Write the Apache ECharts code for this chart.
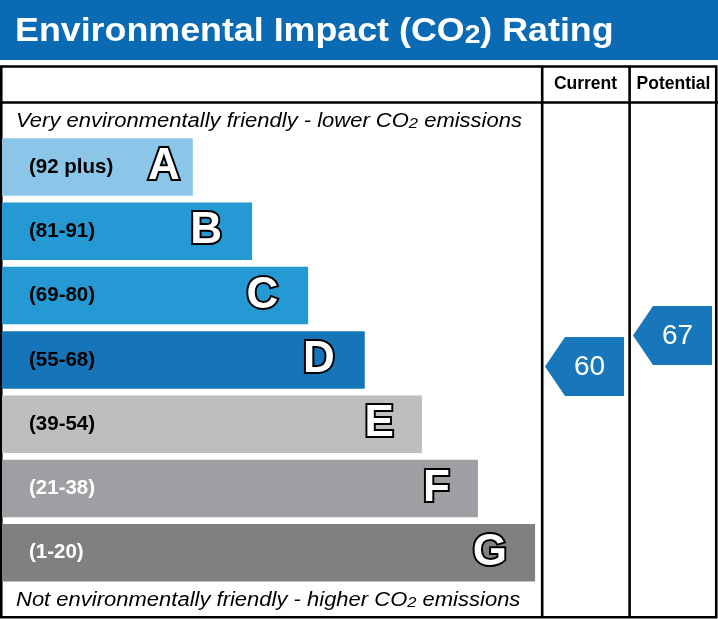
<!DOCTYPE html>
<html>
<head>
<meta charset="utf-8">
<script src="https://cdn.jsdelivr.net/npm/echarts@6/dist/echarts.min.js"></script>
<style>
html,body{margin:0;padding:0;background:#fff;}
#chart{width:718px;height:619px;}
</style>
</head>
<body>
<div id="chart"></div>
<script>
// ---- data ----
const bandLetters = ['A', 'B', 'C', 'D', 'E', 'F', 'G'];
const bandRanges = ['(92 plus)', '(81-91)', '(69-80)', '(55-68)', '(39-54)', '(21-38)', '(1-20)'];
const bandMin = [92, 81, 69, 55, 39, 21, 1];
const bandMax = [100, 91, 80, 68, 54, 38, 20];
const barLengths = [35.4, 46.4, 56.8, 67.3, 77.9, 88.3, 98.9]; // % of rating-area width
const columns = ['Current', 'Potential'];
const ratings = [60, 67];

// ---- styles ----
const FONT = 'Liberation Sans, Arial, sans-serif';
const bandColors = ['#8bc6e8', '#2599d4', '#2599d4', '#1674b9', '#bfbebc', '#9d9fa2', '#808080'];
const rangeTextColors = ['#000', '#000', '#000', '#000', '#000', '#fff', '#fff'];
const letterDistance = [13, 30, 30, 30, 28, 28, 28];
const BAR_H = 57.5;
const ARROW_COLOR = '#1876bb';

const chart = echarts.init(document.getElementById('chart'), null, {renderer: 'canvas'});

const barData = barLengths.map((v, i) => ({
  value: v,
  itemStyle: {color: bandColors[i]},
  label: {color: rangeTextColors[i]}
}));
const letterData = barLengths.map((v, i) => ({
  value: v,
  label: {distance: letterDistance[i]}
}));

function renderArrow(params, api) {
  const col = api.value(0);
  const score = api.value(1);
  let band = bandMin.findIndex(m => score >= m);
  if (band < 0) band = bandMin.length - 1;
  const c = api.coord([col, band]);
  const frac = (score - bandMin[band]) / (bandMax[band] - bandMin[band]);
  const y = c[1] + BAR_H / 2 - frac * BAR_H;
  const cx = c[0];
  const h = 29.5;
  return {
    type: 'group',
    children: [
      {
        type: 'polygon',
        shape: {points: [[cx - 40.5, y], [cx - 20.5, y - h], [cx + 38.5, y - h], [cx + 38.5, y + h], [cx - 20.5, y + h]]},
        style: {fill: ARROW_COLOR}
      },
      {
        type: 'text',
        style: {
          text: String(score), x: cx + 4, y: y + 1, align: 'center', verticalAlign: 'middle',
          fill: '#fff', fontSize: 28, fontFamily: FONT
        }
      }
    ]
  };
}

const option = {
  animation: false,
  backgroundColor: '#fff',
  grid: [
    {left: 2, top: 134.85, width: 539, height: 450.1},
    {left: 541.5, top: 134.85, width: 176, height: 450.1}
  ],
  xAxis: [
    {gridIndex: 0, type: 'value', min: 0, max: 100, show: false},
    {
      gridIndex: 1, type: 'category', data: columns, position: 'top',
      axisLine: {show: false}, axisTick: {show: false}, splitLine: {show: false},
      axisLabel: {show: true, interval: 0, hideOverlap: false, margin: 42, color: '#000', fontWeight: 'bold', fontSize: 17.5, fontFamily: FONT}
    }
  ],
  yAxis: [
    {gridIndex: 0, type: 'category', data: bandLetters, inverse: true, show: false},
    {gridIndex: 1, type: 'category', data: bandLetters, inverse: true, show: false}
  ],
  series: [
    {
      type: 'bar', xAxisIndex: 0, yAxisIndex: 0, barWidth: BAR_H, data: barData,
      label: {
        show: true, position: 'insideLeft', distance: 27,
        formatter: p => bandRanges[p.dataIndex],
        fontWeight: 'bold', fontSize: 20.5, fontFamily: FONT
      },
      silent: true
    },
    {
      type: 'bar', xAxisIndex: 0, yAxisIndex: 0, barWidth: BAR_H, barGap: '-100%', data: letterData,
      itemStyle: {color: 'rgba(0,0,0,0)'},
      label: {
        show: true, position: 'insideRight',
        formatter: p => bandLetters[p.dataIndex],
        color: '#fff', fontWeight: 'bold', fontSize: 44, fontFamily: FONT,
        textBorderColor: '#000', textBorderWidth: 4
      },
      z: 3, silent: true
    },
    {
      type: 'custom', xAxisIndex: 1, yAxisIndex: 1,
      data: ratings.map((r, i) => [i, r]),
      renderItem: renderArrow,
      z: 4, silent: true
    }
  ],
  graphic: [
    {type: 'rect', left: 0, top: 0, shape: {x: 0, y: 0, width: 718, height: 60}, style: {fill: '#0a6ab4'}, z: 0},
    {
      type: 'text', x: 15, y: 32, scaleX: 1.085, z: 10,
      style: {
        text: '{a|Environmental Impact (CO}{s|2}{a|) Rating}',
        verticalAlign: 'middle', align: 'left',
        rich: {
          a: {fontSize: 33, fontWeight: 'bold', fill: '#fff', fontFamily: FONT},
          s: {fontSize: 26, fontWeight: 'bold', fill: '#fff', fontFamily: FONT, verticalAlign: 'bottom'}
        }
      }
    },
    {
      type: 'group', z: 10,
      children: [
        {type: 'rect', shape: {x: 1.25, y: 66.5, width: 715, height: 550.8}, style: {fill: null, stroke: '#000', lineWidth: 2.6}},
        {type: 'line', shape: {x1: 0, y1: 102.5, x2: 718, y2: 102.5}, style: {stroke: '#000', lineWidth: 2.6}},
        {type: 'line', shape: {x1: 542.2, y1: 66, x2: 542.2, y2: 618}, style: {stroke: '#000', lineWidth: 2.6}},
        {type: 'line', shape: {x1: 629.6, y1: 66, x2: 629.6, y2: 618}, style: {stroke: '#000', lineWidth: 2.6}}
      ]
    },
    {
      type: 'text', x: 16, y: 121, scaleX: 1.1, z: 10,
      style: {
        text: '{a|Very environmentally friendly - lower CO}{s|2}{a| emissions}',
        verticalAlign: 'middle', align: 'left',
        rich: {
          a: {fontSize: 20, fontStyle: 'italic', fill: '#000', fontFamily: FONT},
          s: {fontSize: 15, fontStyle: 'italic', fill: '#000', fontFamily: FONT, verticalAlign: 'bottom', lineHeight: 12}
        }
      }
    },
    {
      type: 'text', x: 16, y: 600, scaleX: 1.1, z: 10,
      style: {
        text: '{a|Not environmentally friendly - higher CO}{s|2}{a| emissions}',
        verticalAlign: 'middle', align: 'left',
        rich: {
          a: {fontSize: 20, fontStyle: 'italic', fill: '#000', fontFamily: FONT},
          s: {fontSize: 15, fontStyle: 'italic', fill: '#000', fontFamily: FONT, verticalAlign: 'bottom', lineHeight: 12}
        }
      }
    }
  ]
};
chart.setOption(option);
</script>
</body>
</html>
